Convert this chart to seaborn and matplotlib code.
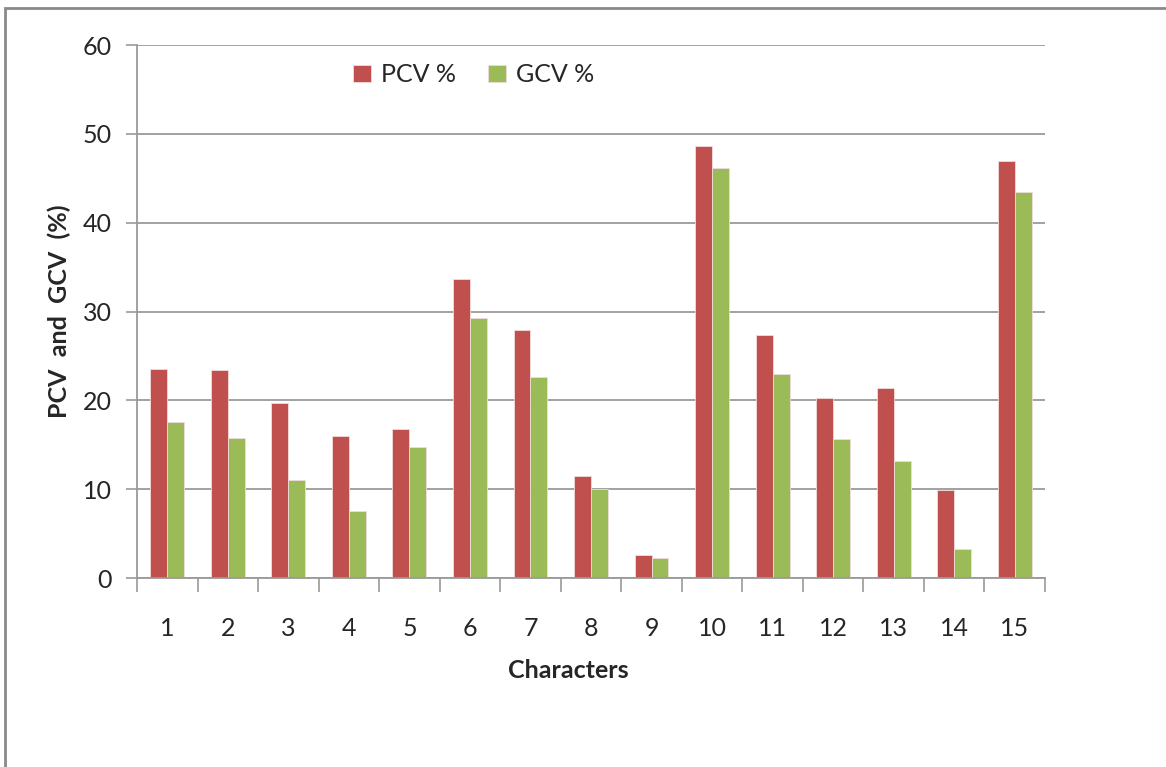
import numpy as np
import pandas as pd
import seaborn as sns
import matplotlib.pyplot as plt
from matplotlib.patches import Rectangle
from matplotlib.ticker import FixedLocator

# ─── Data ─────────────────────────────────────────────────────────────────────
characters = [str(i) for i in range(1, 16)]
pcv = [23.5, 23.4, 19.7, 16.0, 16.8, 33.7, 27.9, 11.5, 2.6, 48.6,
       27.4, 20.3, 21.4, 9.9, 46.9]
gcv = [17.6, 15.8, 11.0, 7.5, 14.8, 29.3, 22.6, 10.0, 2.2, 46.2,
       23.0, 15.6, 13.2, 3.3, 43.5]
series = ["PCV %", "GCV %"]
colors = ["#C0504D", "#9BBB59"]

df = pd.DataFrame({
    "Characters": characters * 2,
    "value": pcv + gcv,
    "series": [series[0]] * len(pcv) + [series[1]] * len(gcv),
})

# ─── Plot ─────────────────────────────────────────────────────────────────────
sns.set_theme(style="white")
plt.rcParams["font.family"] = ["Lato", "DejaVu Sans"]

fig = plt.figure(figsize=(11.66, 7.67), dpi=100)
ax = fig.add_axes([0.1175, 0.2464, 0.7787, 0.6949])

sns.barplot(
    data=df, x="Characters", y="value", hue="series",
    order=characters, hue_order=series, palette=colors,
    width=0.56, edgecolor="#f2dcdb", linewidth=0.6,
    saturation=1, ax=ax,
)

ax.set_xlim(-0.5, 14.5)
ax.set_ylim(0, 60)
ax.set_yticks(np.arange(0, 61, 10))
ax.yaxis.grid(True, color="#9a9a9a", linewidth=1.3)
ax.set_axisbelow(True)

for s in ["top", "right"]:
    ax.spines[s].set_visible(False)
for s in ["left", "bottom"]:
    ax.spines[s].set_color("#9a9a9a")
    ax.spines[s].set_linewidth(1.3)

ax.tick_params(axis="y", length=8, width=1.2, color="#9a9a9a",
               labelsize=18, pad=10, left=True)
ax.tick_params(axis="x", which="major", length=0, labelsize=18, pad=28)
ax.xaxis.set_minor_locator(FixedLocator(np.arange(-0.5, 15, 1)))
ax.tick_params(axis="x", which="minor", length=10, width=1.2,
               color="#9a9a9a", bottom=True)

ax.set_xlabel("Characters", fontsize=18, fontweight="bold")
ax.xaxis.set_label_coords(0.475, -0.152)
ax.set_ylabel("PCV  and  GCV  (%)", fontsize=18, fontweight="bold")
ax.yaxis.set_label_coords(-0.073, 0.5)

ax.legend(
    loc="center", bbox_to_anchor=(0.371, 0.944), ncol=2, frameon=False,
    fontsize=18, handlelength=0.7, handleheight=0.7, columnspacing=1.3,
    handletextpad=0.4, title=None,
)

# outer frame
fig.patches.append(Rectangle((0.004, -0.1), 1.2, 1.089, transform=fig.transFigure,
                             fill=False, edgecolor="#8a8a8a", linewidth=2))

fig.savefig("out.png", dpi=100)
